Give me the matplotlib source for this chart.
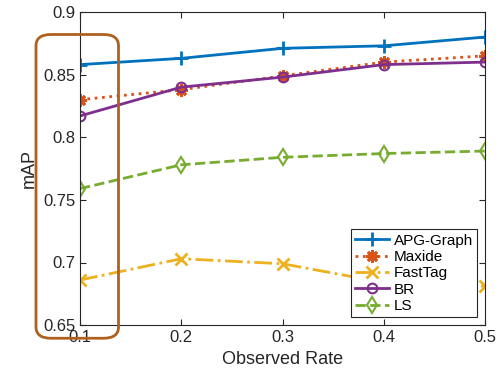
import numpy as np
import matplotlib
matplotlib.use('Agg')
import matplotlib.pyplot as plt
from matplotlib.patches import FancyBboxPatch

rates = [0.1, 0.2, 0.3, 0.4, 0.5]
apg = [0.858, 0.863, 0.871, 0.873, 0.880]
maxide = [0.830, 0.838, 0.849, 0.860, 0.865]
fasttag = [0.686, 0.703, 0.699, 0.684, 0.681]
br = [0.817, 0.840, 0.848, 0.858, 0.860]
ls = [0.759, 0.778, 0.784, 0.787, 0.789]

plt.rcParams['font.family'] = ['Liberation Sans', 'DejaVu Sans']
fig = plt.figure(figsize=(5, 3.75), dpi=100)
ax = fig.add_axes([0.16, 0.133, 0.81, 0.835])

ax.plot(rates, apg, '-', color='#0072BD', lw=2, marker='+', ms=10, mew=2, label='APG-Graph')
ax.plot(rates, maxide, ':', color='#D95319', lw=2, marker=(8, 2, 0), ms=9, mew=2, label='Maxide')
ax.plot(rates, fasttag, '-.', color='#EDB120', lw=2, marker='x', ms=8, mew=2, label='FastTag')
ax.plot(rates, br, '-', color='#7E2F8E', lw=2, marker='o', ms=7, mew=1.5, mfc='none', label='BR')
ax.plot(rates, ls, '--', color='#77AC30', lw=2, marker='d', ms=8, mew=1.5, mfc='none', label='LS')

ax.set_xlim(0.1, 0.5)
ax.set_ylim(0.65, 0.9)
ax.set_xticks(rates)
ax.set_xticklabels(['0.1', '0.2', '0.3', '0.4', '0.5'])
ax.set_yticks([0.65, 0.7, 0.75, 0.8, 0.85, 0.9])
ax.set_yticklabels(['0.65', '0.7', '0.75', '0.8', '0.85', '0.9'])
ax.tick_params(direction='in', labelsize=12, colors='#262626', length=4)
ax.tick_params(top=True, right=True)
for s in ax.spines.values():
    s.set_color('#262626')
    s.set_linewidth(0.8)
ax.set_xlabel('Observed Rate', fontsize=13, color='#262626')
ax.set_ylabel('mAP', fontsize=13, color='#262626')

leg = ax.legend(loc='lower right', fontsize=11, handlelength=2.2, handletextpad=0.3,
                borderpad=0.3, labelspacing=0.15, fancybox=False, framealpha=1)
leg.get_frame().set_edgecolor('#262626')
leg.get_frame().set_linewidth(0.8)

box = FancyBboxPatch((0.072, 0.098), 0.165, 0.81, boxstyle='round,pad=0,rounding_size=0.03',
                     transform=fig.transFigure, fill=False, edgecolor='#B0601E', lw=2,
                     clip_on=False)
fig.patches.append(box)

fig.savefig('out.png', dpi=100)
